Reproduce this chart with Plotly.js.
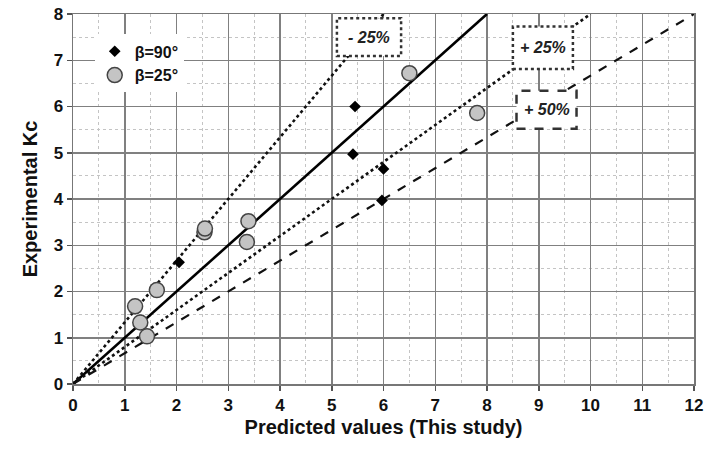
<!DOCTYPE html>
<html>
<head>
<meta charset="utf-8">
<script src="https://cdn.plot.ly/plotly-3.0.1.min.js"></script>
<style>html,body{margin:0;padding:0;background:#fff;}#chart{width:722px;height:450px;}</style>
</head>
<body>
<div id="chart"></div>
<script>
// β=90° series (black diamonds)
const b90X = [2.05, 5.45, 5.41, 6.0, 5.97];
const b90Y = [2.63, 6.0, 4.97, 4.65, 3.97];
// β=25° series (grey circles)
const b25X = [1.2, 1.3, 1.43, 1.62, 2.54, 2.55, 3.36, 3.39, 6.5, 7.81];
const b25Y = [1.68, 1.33, 1.03, 2.03, 3.28, 3.36, 3.07, 3.52, 6.72, 5.86];
// Reference lines
const perfectX = [0, 8], perfectY = [0, 8];
const minus25X = [0, 6], minus25Y = [0, 8];
const plus25X = [0, 10], plus25Y = [0, 8];
const plus50X = [0, 12], plus50Y = [0, 8];
// Box labels
const boxLabels = ['- 25%', '+ 25%', '+ 50%'];
const boxX = [5.72, 9.08, 9.15];
const boxY = [7.5, 7.27, 5.93];

const FONT = '"Liberation Sans", Arial, sans-serif';

const traces = [
  {x: perfectX, y: perfectY, mode: 'lines', line: {color: '#000', width: 2.6}, showlegend: false, hoverinfo: 'skip'},
  {x: minus25X, y: minus25Y, mode: 'lines', line: {color: '#111', width: 2.6, dash: 'dot'}, showlegend: false, hoverinfo: 'skip'},
  {x: plus25X, y: plus25Y, mode: 'lines', line: {color: '#111', width: 2.6, dash: 'dot'}, showlegend: false, hoverinfo: 'skip'},
  {x: plus50X, y: plus50Y, mode: 'lines', line: {color: '#111', width: 2.2, dash: 'dash'}, showlegend: false, hoverinfo: 'skip'},
  {x: b90X, y: b90Y, mode: 'markers', name: 'β=90°', marker: {symbol: 'diamond', size: 9, color: '#000'}},
  {x: b25X, y: b25Y, mode: 'markers', name: 'β=25°', marker: {symbol: 'circle', size: 15, color: '#c4c4c4', line: {color: '#444', width: 1.5}}}
];

const boxW = [0.62, 0.58, 0.58];
const boxH = [0.41, 0.46, 0.41];
const boxDash = ['dot', 'dot', 'dash'];
const shapes = boxLabels.map((_, i) => ({
  type: 'rect', xref: 'x', yref: 'y',
  x0: boxX[i] - boxW[i], x1: boxX[i] + boxW[i],
  y0: boxY[i] - boxH[i], y1: boxY[i] + boxH[i],
  line: {color: '#333', width: 2.5, dash: boxDash[i]},
  fillcolor: '#fff', layer: 'above'
}));
const annotations = boxLabels.map((t, i) => ({
  x: boxX[i], y: boxY[i], xref: 'x', yref: 'y', text: '<b><i>' + t + '</i></b>',
  showarrow: false, font: {family: FONT, size: 16, color: '#222'}
}));

const axisCommon = {
  showgrid: true, gridcolor: '#808080', gridwidth: 1.5,
  zeroline: false, showline: true, linecolor: '#777', linewidth: 1.5, mirror: true,
  ticks: 'outside', ticklen: 5, tickcolor: '#555', tickwidth: 1.5,
  tickfont: {family: FONT, size: 17, color: '#111', weight: 'bold'},
  minor: {dtick: 0.5, showgrid: true, gridcolor: '#c4c4c4', gridwidth: 1, griddash: 'dot', ticks: ''}
};

const layout = {
  width: 722, height: 450,
  margin: {l: 73, r: 28, t: 14, b: 66},
  paper_bgcolor: '#fff', plot_bgcolor: '#fff',
  showlegend: true,
  legend: {x: 0.035, y: 0.945, xanchor: 'left', yanchor: 'top', bgcolor: '#fff',
    font: {family: FONT, size: 16, color: '#111', weight: 'bold'}, itemwidth: 20, tracegroupgap: 0},
  xaxis: Object.assign({}, axisCommon, {range: [0, 12], dtick: 1,
    title: {text: '<b>Predicted values (This study)</b>', font: {family: FONT, size: 20, color: '#111'}, standoff: 6}}),
  yaxis: Object.assign({}, axisCommon, {range: [0, 8], dtick: 1,
    title: {text: '<b>Experimental Kc</b>', font: {family: FONT, size: 20, color: '#111'}, standoff: 10}}),
  shapes: shapes,
  annotations: annotations
};

Plotly.newPlot('chart', traces, layout, {displayModeBar: false, staticPlot: true});
</script>
</body>
</html>
